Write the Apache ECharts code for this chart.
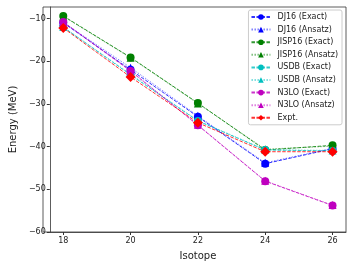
<!DOCTYPE html>
<html><head><meta charset="utf-8">
<script src="https://cdn.jsdelivr.net/npm/echarts@6/dist/echarts.min.js"></script>
<style>html,body{margin:0;padding:0;background:#fff}#c{width:353px;height:266px}</style>
</head><body><div id="c"></div>
<script>
const isotopes = [18, 20, 22, 24, 26];
const xTicks = [18, 20, 22, 24, 26];
const yTicks = [-60, -50, -40, -30, -20, -10];
const dj16Exact   = [-11.0, -22.0, -33.0, -44.0, -40.5];
const dj16Ansatz  = [-10.9, -21.5, -32.8, -43.8, -40.4];
const jisp16Exact = [-9.4, -19.1, -29.8, -40.8, -39.7];
const jisp16Ansatz= [-9.5, -19.2, -29.9, -40.6, -39.9];
const usdbExact   = [-12.0, -23.2, -34.0, -40.8, -41.0];
const usdbAnsatz  = [-12.0, -23.0, -33.9, -40.7, -40.9];
const n3loExact   = [-10.8, -22.3, -35.0, -48.1, -53.8];
const n3loAnsatz  = [-10.8, -22.2, -34.9, -48.0, -53.7];
const expt        = [-12.2, -23.7, -34.4, -41.2, -41.2];
const seriesNames = ['DJ16 (Exact)','DJ16 (Ansatz)','JISP16 (Exact)','JISP16 (Ansatz)','USDB (Exact)','USDB (Ansatz)','N3LO (Exact)','N3LO (Ansatz)','Expt.'];

const font = 'DejaVu Sans';
const minus = v => String(v).replace('-', '\u2212');
function pts(arr){ return isotopes.map((x,i)=>[x,arr[i]]); }
function mk(name, arr, color, kind){
  const exact = kind==='exact', ans = kind==='ansatz';
  return {
    name, type:'line', data:pts(arr),
    symbol: exact ? 'circle' : ans ? 'triangle' : 'diamond',
    symbolSize: exact ? 8 : ans ? 8 : 10,
    itemStyle:{color},
    lineStyle:{color, width:1, type: ans ? [1.5,1.5] : [3.5,1.5], opacity: ans ? 0.5 : 0.8},
    emphasis:{disabled:true}, animation:false
  };
}
const chart = echarts.init(document.getElementById('c'), null, {renderer:'canvas'});
chart.setOption({
  animation:false,
  grid:{left:43, top:7, right:7, bottom:34, containLabel:false},
  xAxis:{type:'value', min:17.6, max:26.4,
    name:'Isotope', nameLocation:'middle', nameGap:19,
    nameTextStyle:{fontFamily:font, fontSize:10, color:'#222'},
    axisLine:{show:true, onZero:false, lineStyle:{color:'#333', width:0.8}},
    axisTick:{show:true, length:3, customValues:xTicks, lineStyle:{color:'#333'}},
    axisLabel:{customValues:xTicks, fontFamily:font, fontSize:8, color:'#222', margin:5, formatter:minus},
    splitLine:{show:false}},
  yAxis:{type:'value', min:-60, max:-7.3,
    name:'Energy (MeV)', nameLocation:'middle', nameGap:31, nameRotate:90,
    nameTextStyle:{fontFamily:font, fontSize:10, color:'#222'},
    axisLine:{show:true, onZero:false, lineStyle:{color:'#333', width:0.8}},
    axisTick:{show:true, length:3, customValues:yTicks, lineStyle:{color:'#333'}},
    axisLabel:{customValues:yTicks, fontFamily:font, fontSize:8, color:'#222', margin:4, formatter:minus},
    splitLine:{show:false}},
  legend:{orient:'vertical', right:11, top:10, itemWidth:19, itemHeight:7, itemGap:4.6,
    padding:[3,4,3,2],
    data:seriesNames,
    textStyle:{fontFamily:font, fontSize:8, color:'#222', padding:[0,0,0,2]},
    borderColor:'#cccccc', borderWidth:1, borderRadius:2, backgroundColor:'rgba(255,255,255,0.85)'},
  graphic:[
    {type:'rect', shape:{x:43, y:7, width:303, height:225}, style:{fill:'none', stroke:'#333', lineWidth:0.8}, silent:true, z:-1}
  ],
  series:[
    mk(seriesNames[0], dj16Exact, '#0000ff','exact'),
    mk(seriesNames[1], dj16Ansatz, '#0000ff','ansatz'),
    mk(seriesNames[2], jisp16Exact, '#008000','exact'),
    mk(seriesNames[3], jisp16Ansatz, '#008000','ansatz'),
    mk(seriesNames[4], usdbExact, '#00bfbf','exact'),
    mk(seriesNames[5], usdbAnsatz, '#00bfbf','ansatz'),
    mk(seriesNames[6], n3loExact, '#bf00bf','exact'),
    mk(seriesNames[7], n3loAnsatz, '#bf00bf','ansatz'),
    mk(seriesNames[8], expt, '#ff0000','expt')
  ]
});
</script></body></html>
